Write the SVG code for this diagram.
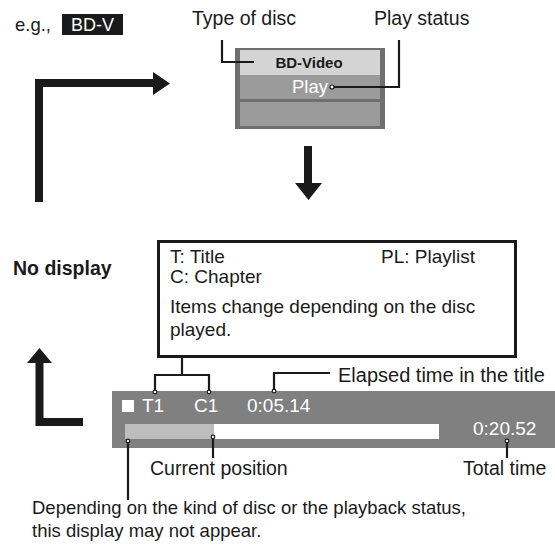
<svg xmlns="http://www.w3.org/2000/svg" width="555" height="546" viewBox="0 0 555 546">
<style>
text{font-family:"Liberation Sans",Arial,sans-serif;font-size:19.5px;fill:#1a1a1a}
.w{fill:#fff}
.b{font-weight:bold}
.ln{fill:none;stroke:#1a1a1a;stroke-width:2.2}
.thick{fill:none;stroke:#1a1a1a;stroke-width:8}
.ah{fill:#1a1a1a}
.dot{fill:#fff;stroke:#1a1a1a;stroke-width:1.2}
</style>
<rect width="555" height="546" fill="#fff"/>
<g id="example">
<text x="15" y="31" style="font-size:18.5px">e.g.,</text>
<rect x="62" y="14" width="61" height="21" fill="#1a1a1a"/>
<text class="w" x="71" y="31" style="font-size:18px">BD-V</text>
</g>
<g id="disc-display">
<rect x="235" y="48" width="150" height="81" fill="#6f6f6f"/>
<rect x="240" y="50" width="140" height="25" fill="#d4d4d4"/>
<rect x="240" y="75" width="140" height="24" fill="#9b9b9b"/>
<rect x="240" y="102" width="140" height="24" fill="#9b9b9b"/>
<text class="b" x="309" y="68" text-anchor="middle" style="font-size:15px">BD-Video</text>
<text class="w" x="292" y="93" style="font-size:18.5px">Play</text>
</g>
<g id="label-type">
<text x="192" y="25">Type of disc</text>
</g>
<g id="label-play">
<text x="374" y="25">Play status</text>
</g>
<g id="no-display">
<text class="b" x="13" y="275">No display</text>
</g>
<g id="info-box">
<rect x="158.5" y="241.5" width="357" height="115" fill="#fff" stroke="#1a1a1a" stroke-width="3"/>
<text x="170" y="263" style="font-size:19px">T: Title</text>
<text x="381" y="263" style="font-size:19px">PL: Playlist</text>
<text x="170" y="283" style="font-size:19px">C: Chapter</text>
<text x="170" y="313" style="font-size:19px">Items change depending on the disc</text>
<text x="170" y="336" style="font-size:19px">played.</text>
</g>
<g id="status-bar">
<rect x="112" y="391" width="443" height="57" fill="#808080"/>
<rect x="122" y="400" width="12" height="12" fill="#fff"/>
<text class="w" x="142" y="412" style="font-size:19px">T1</text>
<text class="w" x="194" y="412" style="font-size:19px">C1</text>
<text class="w" x="247" y="412" style="font-size:19px">0:05.14</text>
<rect x="125" y="424" width="89" height="15" fill="#bdbdbd"/>
<rect x="214" y="424" width="225" height="15" fill="#fff"/>
<text class="w" x="473" y="435" style="font-size:19px">0:20.52</text>
</g>
<g id="labels">
<text x="338" y="382" style="font-size:20px">Elapsed time in the title</text>
<text x="150" y="475">Current position</text>
<text x="463" y="475">Total time</text>
<text x="32" y="514" style="font-size:18.5px">Depending on the kind of disc or the playback status,</text>
<text x="32" y="537" style="font-size:18.5px">this display may not appear.</text>
</g>
<g id="connectors">
<path class="thick" d="M39,202 V83 H155"/>
<polygon class="ah" points="153,72 170,83.5 153,95"/>
<path class="thick" d="M308,146 V185"/>
<polygon class="ah" points="295,183 322,183 308.5,200"/>
<path class="thick" d="M39.5,361 V422 H83"/>
<polygon class="ah" points="27,363 39.5,348 52,363"/>
<path class="ln" d="M222,40 V62 H254"/>
<path class="ln" d="M399,40 V87 H334"/>
<circle class="dot" cx="332" cy="87" r="2"/>
<path class="ln" d="M182,357 V375 M155,392 V375 H209 V392"/>
<circle class="dot" cx="155" cy="392" r="1.8"/>
<circle class="dot" cx="209" cy="392" r="1.8"/>
<path class="ln" d="M274,391 V373 H330"/>
<circle class="dot" cx="274" cy="391" r="1.8"/>
<path class="ln" d="M128,442 V500"/>
<path class="ln" d="M213,437 V458"/>
<path class="ln" d="M507,441 V458"/>
<circle class="dot" cx="128" cy="441" r="1.8"/>
<circle class="dot" cx="213" cy="437" r="1.8"/>
<circle class="dot" cx="507" cy="441" r="1.8"/>
</g>
</svg>
